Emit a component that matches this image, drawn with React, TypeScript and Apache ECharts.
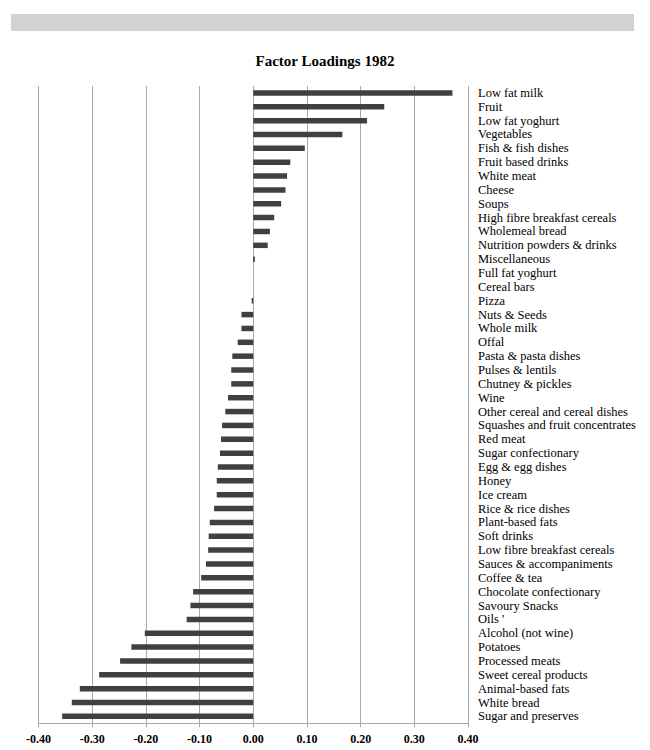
import React, { useEffect, useRef } from "react";
import * as echarts from "echarts";

const categories = [
  "Low fat milk", "Fruit", "Low fat yoghurt", "Vegetables", "Fish & fish dishes",
  "Fruit based drinks", "White meat", "Cheese", "Soups", "High fibre breakfast cereals",
  "Wholemeal bread", "Nutrition powders & drinks", "Miscellaneous", "Full fat yoghurt",
  "Cereal bars", "Pizza", "Nuts & Seeds", "Whole milk", "Offal", "Pasta & pasta dishes",
  "Pulses & lentils", "Chutney & pickles", "Wine", "Other cereal and cereal dishes",
  "Squashes and fruit concentrates", "Red meat", "Sugar confectionary", "Egg & egg dishes",
  "Honey", "Ice cream", "Rice & rice dishes", "Plant-based fats", "Soft drinks",
  "Low fibre breakfast cereals", "Sauces & accompaniments", "Coffee & tea",
  "Chocolate confectionary", "Savoury Snacks", "Oils '", "Alcohol (not wine)", "Potatoes",
  "Processed meats", "Sweet cereal products", "Animal-based fats", "White bread",
  "Sugar and preserves",
];

const loadings = [
  0.371, 0.244, 0.212, 0.166, 0.096,
  0.069, 0.063, 0.060, 0.052, 0.039,
  0.031, 0.027, 0.003, 0.0,
  0.0, -0.003, -0.022, -0.022, -0.029, -0.039,
  -0.041, -0.041, -0.047, -0.052,
  -0.058, -0.060, -0.062, -0.066,
  -0.068, -0.068, -0.073, -0.081, -0.083,
  -0.084, -0.088, -0.097,
  -0.112, -0.117, -0.124, -0.202, -0.227,
  -0.248, -0.287, -0.323, -0.338,
  -0.356,
];

const xTicks = { min: -0.4, max: 0.4, step: 0.1 };

const SERIF = "'Liberation Serif', 'Times New Roman', serif";

export default function App() {
  const ref = useRef<HTMLDivElement>(null);
  useEffect(() => {
    if (!ref.current) return;
    const chart = echarts.init(ref.current, undefined, { renderer: "svg" });
    chart.setOption({
      animation: false,
      backgroundColor: "#ffffff",
      title: {
        text: "Factor Loadings 1982",
        left: "center",
        top: 48,
        textStyle: { fontFamily: SERIF, fontWeight: "bold", fontSize: 15, color: "#000" },
      },
      graphic: [
        {
          type: "rect",
          shape: { x: 11, y: 14, width: 623, height: 17 },
          style: { fill: "#d1d2d4" },
          silent: true,
        },
      ],
      grid: { left: 38.5, right: 182, top: 86, bottom: 26.7, containLabel: false },
      xAxis: {
        type: "value",
        min: xTicks.min,
        max: xTicks.max,
        interval: xTicks.step,
        axisLine: { show: true, lineStyle: { color: "#a8a8a8", width: 1 } },
        axisTick: { show: true, length: 4, lineStyle: { color: "#a8a8a8" } },
        splitLine: { show: true, lineStyle: { color: "#a8a8a8", width: 1 } },
        axisLabel: {
          margin: 10,
          fontFamily: SERIF,
          fontWeight: "bold",
          fontSize: 12,
          color: "#000",
          formatter: (v: number) => v.toFixed(2),
        },
      },
      yAxis: {
        type: "category",
        data: categories,
        inverse: true,
        position: "right",
        axisLine: { show: false },
        axisTick: { show: false },
        splitLine: { show: false },
        axisLabel: {
          margin: 10,
          fontFamily: SERIF,
          fontSize: 12.5,
          color: "#000",
          interval: 0,
        },
      },
      series: [
        {
          type: "bar",
          data: loadings,
          barWidth: 5.5,
          itemStyle: { color: "#404040" },
        },
      ],
    });
    return () => chart.dispose();
  }, []);
  return (
    <div
      ref={ref}
      style={{ position: "absolute", left: 0, top: 0, width: 650, height: 750 }}
    />
  );
}
